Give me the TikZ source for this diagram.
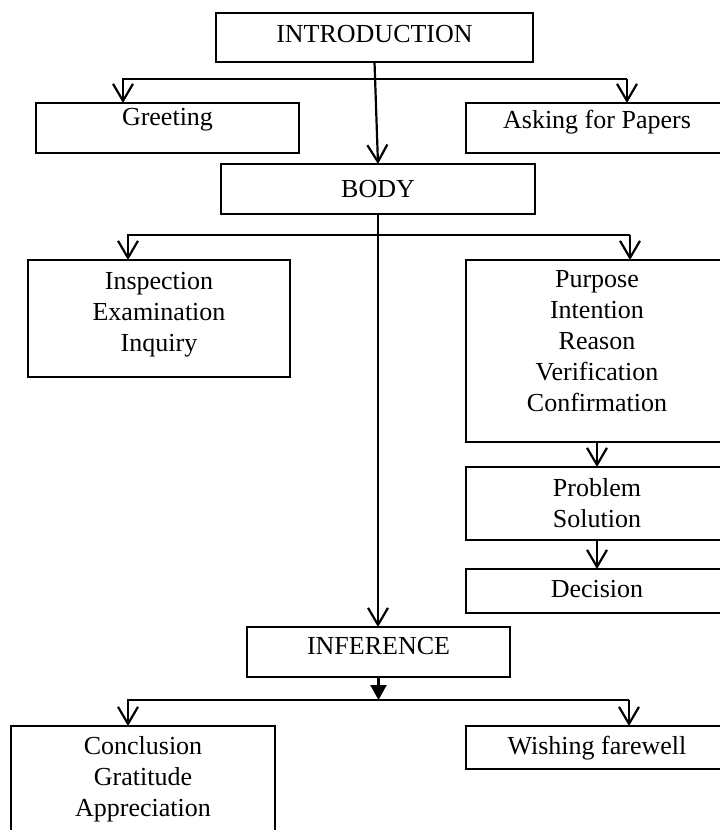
\documentclass[tikz,border=0pt]{standalone}
\usepackage{fontspec}
\setmainfont{Liberation Serif}
\usetikzlibrary{arrows.meta}
\begin{document}
\begin{tikzpicture}[x=1pt,y=-1pt,inner sep=0pt,outer sep=0pt,line width=2.2pt,
blk/.style={draw,rectangle,minimum width=262pt,align=center,font=\fontsize{26}{31}\selectfont},
>={Straight Barb[length=17pt,width=20pt]}]
\useasboundingbox (0,0) rectangle (720,830);
\clip (0,0) rectangle (720,830);
\draw (374.5,37.5) node[blk,minimum width=317pt,minimum height=49pt,text depth=7pt] (intro) {INTRODUCTION};
\draw (167.5,128) node[blk,minimum width=263pt,minimum height=50pt,text depth=22.5pt] (greet) {Greeting};
\draw (597,128) node[blk,minimum height=50pt,text depth=18pt] (papers) {Asking for Papers};
\draw (378,189) node[blk,minimum width=314pt,minimum height=50pt] (body) {BODY};
\draw (159,318.5) node[blk,minimum height=117pt] (insp) {Inspection\\Examination\\Inquiry\rule[-14pt]{0pt}{14pt}};
\draw (597,351) node[blk,minimum height=182pt] (purp) {Purpose\\Intention\\Reason\\Verification\\Confirmation\rule[-20.5pt]{0pt}{20.5pt}};
\draw (597,503.5) node[blk,minimum height=73pt] (prob) {Problem\\Solution\rule[-2pt]{0pt}{2pt}};
\draw (597,591) node[blk,minimum height=44pt,text depth=4.5pt] (dec) {Decision};
\draw (378.5,652) node[blk,minimum width=263pt,minimum height=50pt,text depth=12.5pt] (infer) {INFERENCE};
\draw (143,785.5) node[blk,minimum width=264pt,minimum height=119pt] (concl) {Conclusion\\Gratitude\\Appreciation\rule[-17.5pt]{0pt}{17.5pt}};
\draw (597,747.5) node[blk,minimum height=43pt,text depth=3.5pt] (farewell) {Wishing farewell};
% branch points
\coordinate (ja) at (123,79);
\coordinate (jb) at (627,79);
\coordinate (ka) at (128,235);
\coordinate (kb) at (630,235);
\coordinate (la) at (128,700);
\coordinate (lb) at (629,700);
\draw[->] (intro.south) -- (body.north);
\draw[->] (jb) -- (ja) -- (ja |- greet.north);
\draw[->] (jb) -- (jb |- papers.north);
\draw[->] (body.south) -- (body.south |- infer.north);
\draw[->] (kb) -- (ka) -- (ka |- insp.north);
\draw[->] (kb) -- (kb |- purp.north);
\draw[->] (purp.south) -- (prob.north);
\draw[->] (prob.south) -- (dec.north);
\draw[-{Triangle[length=15pt,width=16pt]}] (infer.south) -- (infer.south |- la);
\draw[->] (lb) -- (la) -- (la |- concl.north);
\draw[->] (lb) -- (lb |- farewell.north);
\end{tikzpicture}
\end{document}
